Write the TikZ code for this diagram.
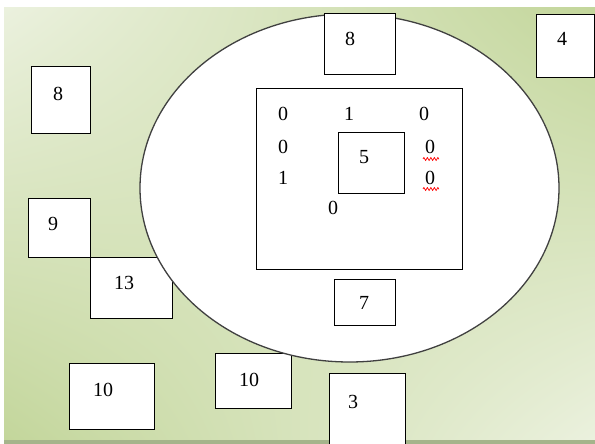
\documentclass[tikz,border=0pt]{standalone}
\usepackage{fontspec}
\setmainfont{Liberation Serif}
\usetikzlibrary{shapes.geometric,decorations.pathmorphing,shadings}
\definecolor{bglight}{HTML}{EBF1DE}
\definecolor{bgdark}{HTML}{C3D69B}
\definecolor{bgline}{HTML}{A5B48B}
\tikzset{
  box/.style={draw=black, line width=1.4pt, fill=white, inner sep=0pt, anchor=north west},
  num/.style={inner sep=0pt, font=\fontsize{20}{24}\selectfont},
  squig/.style={draw=red, line width=0.7pt, decorate, decoration={zigzag, segment length=3.5pt, amplitude=1.5pt}}
}
\begin{document}
\begin{tikzpicture}[x=1pt,y=-1pt]
\useasboundingbox (0,0) rectangle (595,444);
\clip (0,0) rectangle (595,444);
\fill[white] (0,0) rectangle (595,444);
\shade[upper left=bglight, upper right=bgdark, lower left=bgdark, lower right=bglight] (4,8) rectangle (595,440);
\fill[bgline] (4,440) rectangle (595,444);
% boxes under the ellipse
\node[box, minimum width=82pt, minimum height=61pt] (b13) at (90,257) {};
\node[box, minimum width=76pt, minimum height=55pt] (b10b) at (215,353) {};
% ellipse
\node[ellipse, draw=black!75, line width=1.3pt, fill=white, minimum width=419pt, minimum height=348pt, inner sep=0pt] (ell) at (349.5,188) {};
% other boxes
\node[box, minimum width=71pt, minimum height=61pt] (b8top) at (324,13) {};
\node[box, minimum width=58pt, minimum height=63pt] (b4) at (536,14) {};
\node[box, minimum width=59pt, minimum height=67pt] (b8left) at (31,66) {};
\node[box, minimum width=62pt, minimum height=59pt] (b9) at (28,198) {};
\node[box, minimum width=85pt, minimum height=66pt] (b10a) at (69,363) {};
\node[box, minimum width=76pt, minimum height=90pt] (b3) at (329,373) {};
\node[box, minimum width=61pt, minimum height=46pt] (b7) at (334,279) {};
\node[box, minimum width=206pt, minimum height=181pt] (inner) at (256,88) {};
\node[box, minimum width=66pt, minimum height=61pt] (b5) at (338,132) {};
% labels
\node[num] (t8top) at (350,39) {8};
\node[num] (t4) at (562,39) {4};
\node[num] (t8left) at (58,94) {8};
\node[num] (t9) at (53,224) {9};
\node[num] (t13) at (124,283) {13};
\node[num] (t10a) at (103,390) {10};
\node[num] (t10b) at (249,380) {10};
\node[num] (t3) at (353,402) {3};
\node[num] (t7) at (364,303) {7};
\node[num] (t5) at (364,157) {5};
% digits in the square
\node[num] (d1) at (283,114) {0};
\node[num] (d2) at (349,114) {1};
\node[num] (d3) at (424,114) {0};
\node[num] (d4) at (283,147) {0};
\node[num] (d5) at (430,147) {0};
\node[num] (d6) at (283,178) {1};
\node[num] (d7) at (430,178) {0};
\node[num] (d8) at (333,208) {0};
\draw[squig] ([xshift=-7pt,yshift=-12pt]d5.center) -- ([xshift=9pt,yshift=-12pt]d5.center);
\draw[squig] ([xshift=-7pt,yshift=-11pt]d7.center) -- ([xshift=9pt,yshift=-11pt]d7.center);
\end{tikzpicture}
\end{document}
